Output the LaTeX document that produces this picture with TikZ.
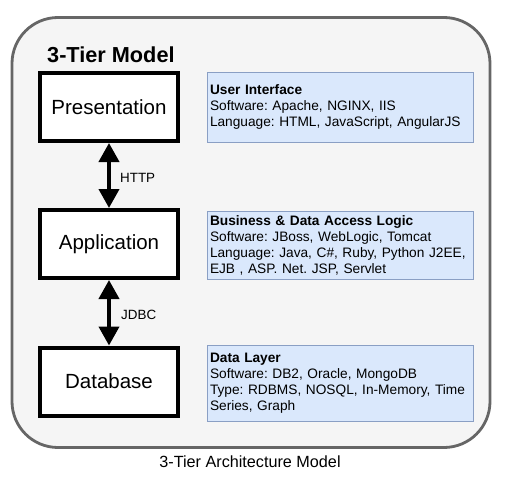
\documentclass[tikz,border=0pt]{standalone}
\usepackage{fontspec}
\setmainfont{Liberation Sans}
\usetikzlibrary{arrows.meta}
\frenchspacing
\definecolor{framegray}{HTML}{666666}
\definecolor{framefill}{HTML}{F5F5F5}
\definecolor{infofill}{HTML}{DAE8FC}
\definecolor{infodraw}{HTML}{8A9FC4}
\tikzset{
  outerbox/.style={draw=framegray, fill=framefill, line width=2.8pt, rounded corners=46pt, inner sep=0pt},
  tierbox/.style={draw=black, fill=white, line width=4pt, minimum width=138pt, minimum height=68pt, inner sep=0pt, font=\fontsize{20.5}{24}\selectfont},
  infobox/.style={draw=infodraw, fill=infofill, line width=0.8pt, text width=260pt, inner xsep=3pt, inner ysep=0pt, align=left, font=\fontsize{13.7}{16}\selectfont},
  conn/.style={line width=4pt, {Triangle[width=20pt,length=19pt]}-{Triangle[width=20pt,length=19pt]}},
  lbl/.style={font=\fontsize{13.4}{16}\selectfont, inner sep=0pt}
}
\begin{document}
\begin{tikzpicture}[x=1pt,y=-1pt]
\useasboundingbox[fill=white] (0,0) rectangle (512,479);
\node[outerbox, minimum width=478pt, minimum height=430pt] (frame) at (251,232.5) {};
\node[anchor=base west, inner sep=0pt, font=\bfseries\fontsize{21.7}{26}\selectfont] (title) at (47,62) {3-Tier Model};

\node[tierbox] (pres) at (109,107) {Presentation};
\node[tierbox] (app) at (109,244) {Application};
\node[tierbox] (db) at (109,381.5) {Database};

\draw[conn] (pres.south) -- (app.north);
\draw[conn] (app.south) -- (db.north);
\node[lbl, anchor=base west] (http) at (120,182) {HTTP};
\node[lbl, anchor=base west] (jdbc) at (121,319) {JDBC};

\node[infobox, minimum height=70pt] (ui) at (340,107) {\textbf{User Interface}\\Software: Apache, NGINX, IIS\\Language: HTML, JavaScript, AngularJS};
\node[infobox, minimum height=68pt] (biz) at (340,245) {\textbf{Business \& Data Access Logic}\\Software: JBoss, WebLogic, Tomcat\\Language: Java, C\#, Ruby, Python J2EE,\\EJB , ASP. Net. JSP, Servlet};
\node[infobox, minimum height=76pt] (data) at (340,383) {\textbf{Data Layer}\\Software: DB2, Oracle, MongoDB\\Type: RDBMS, NOSQL, In-Memory, Time\\Series, Graph};

\node[anchor=base, inner sep=0pt, font=\fontsize{16.2}{19}\selectfont] (caption) at (250,467) {3-Tier Architecture Model};
\end{tikzpicture}
\end{document}
